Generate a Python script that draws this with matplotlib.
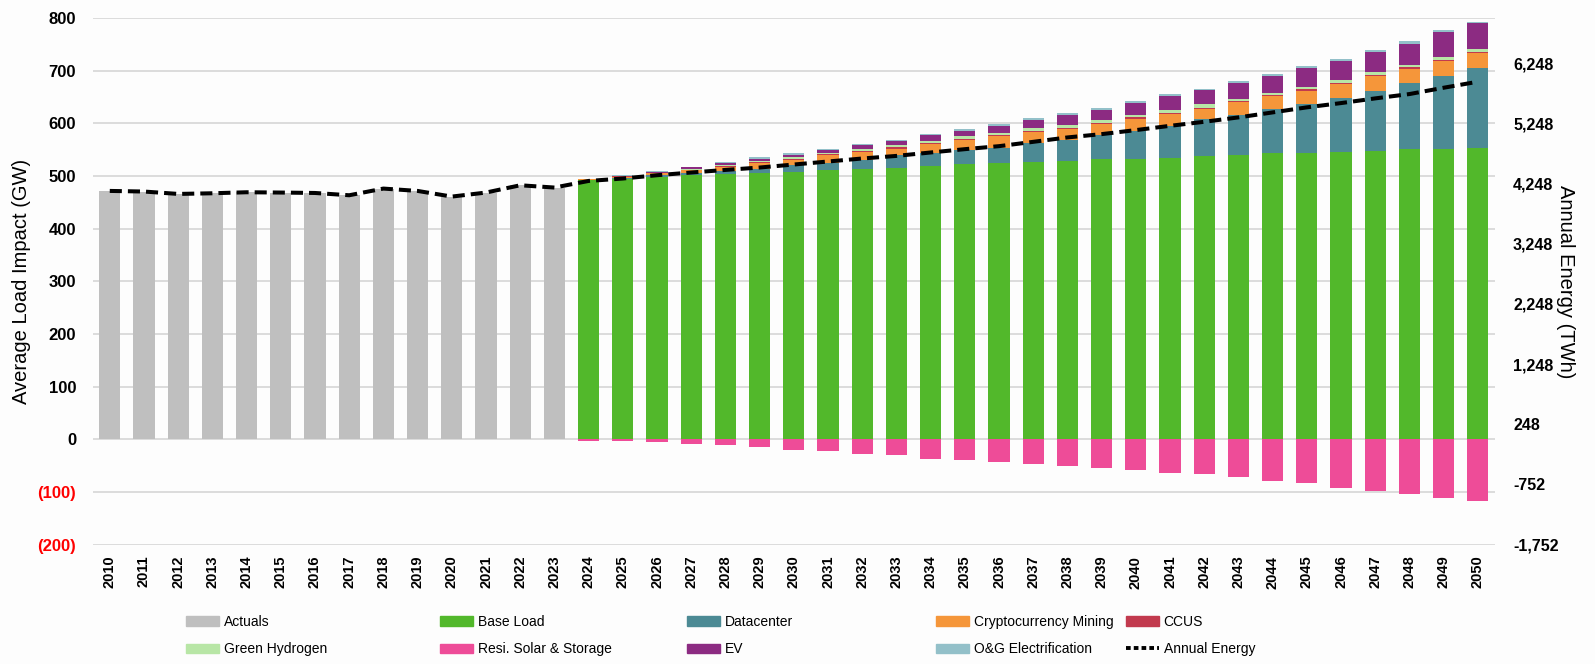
import matplotlib.pyplot as plt
import matplotlib.patches as mpatches
import matplotlib.lines as mlines
import numpy as np

plt.rcParams['font.family'] = ['Liberation Sans', 'DejaVu Sans']

years = list(range(2010, 2051))
hist_years = list(range(2010, 2024))
fcst_years = list(range(2024, 2051))

# historical average load (GW)
actuals = [471, 470, 465, 467, 469, 468, 467, 463, 475, 471, 460, 468, 482, 477]

# forecast components (GW), 2024-2050
base_load = [492, 495, 499, 502, 504, 506, 508, 511, 513, 516, 519, 522, 524, 527,
             529, 532, 532, 534, 537, 540, 543, 543, 545, 548, 551, 551, 554]
datacenter = [1, 2, 3, 4, 6, 8, 12, 14, 18, 23, 24, 27, 30, 35,
              39, 46, 54, 61, 71, 76, 84, 94, 103, 114, 125, 139, 151]
crypto = [1, 2, 3, 5, 8, 11, 11, 15, 15, 13, 17, 20, 21, 22,
          22, 21, 23, 23, 19, 25, 24, 25, 27, 27, 27, 29, 29]
ccus = [0, 0.3, 0.5, 0.8, 1, 1.2, 1.4, 1.6, 2, 2.5, 2, 2, 2, 2,
        2, 2, 2.5, 2, 2, 2, 2, 3, 2, 2, 3, 2, 2]
green_h2 = [0.2, 0.5, 1, 1.5, 2.5, 2.5, 4, 2.5, 3, 3.5, 5, 4, 4.5, 5.5,
            5, 6, 4.5, 6, 7, 4, 5.5, 4.5, 6, 6.5, 4.5, 5, 6]
resi_solar = [-3.3, -3.3, -5.9, -8.5, -11, -14.4, -19.6, -22.9, -28, -30.7, -36.6, -39.2, -42.5, -47,
              -50.3, -53.6, -58.8, -64, -66.7, -72.5, -78.4, -83.7, -92.2, -98, -104, -111.8, -117.6]
ev = [0.5, 1, 2, 3, 4, 4, 4, 5, 7.5, 7.5, 11, 10, 14, 15,
      18, 19, 22, 25, 27, 30, 32, 35, 36, 38, 41, 47, 49]
og_elec = [0.3, 0.5, 1, 1.5, 1.5, 2.5, 2.5, 2.5, 3, 2.5, 2.5, 4, 4, 4,
           4, 4, 4.5, 4, 3, 4, 4, 4, 4, 4.5, 4, 4.5, 2]

# annual energy (TWh), 2010-2050
annual_energy = [4126, 4116, 4076, 4087, 4104, 4099, 4092, 4054, 4165, 4126, 4032, 4099, 4220, 4182,
                 4292, 4332, 4387, 4432, 4475, 4515, 4565, 4615, 4665, 4708, 4765, 4820, 4870,
                 4942, 5015, 5070, 5137, 5208, 5275, 5348, 5431, 5515, 5586, 5664, 5736, 5841, 5941]

colors = {
    'Actuals': '#BFBFBF',
    'Base Load': '#52B82B',
    'Datacenter': '#4C8A94',
    'Cryptocurrency Mining': '#F5963A',
    'CCUS': '#C23A4E',
    'Green Hydrogen': '#B8E6A6',
    'Resi. Solar & Storage': '#EE4C98',
    'EV': '#8C2B82',
    'O&G Electrification': '#93C0C9',
}

fig = plt.figure(figsize=(15.95, 6.64), dpi=100)
fig.patch.set_facecolor('#FDFDFD')
ax = fig.add_axes([0.0581, 0.1798, 0.8792, 0.7931])
ax.set_facecolor('#FDFDFD')
width = 0.62

ax.bar(hist_years, actuals, width=width, color=colors['Actuals'])

stack = [('Base Load', base_load), ('Datacenter', datacenter),
         ('Cryptocurrency Mining', crypto), ('CCUS', ccus),
         ('Green Hydrogen', green_h2), ('EV', ev), ('O&G Electrification', og_elec)]
bottom = np.zeros(len(fcst_years))
for name, vals in stack:
    ax.bar(fcst_years, vals, width=width, bottom=bottom, color=colors[name])
    bottom += np.asarray(vals)
ax.bar(fcst_years, resi_solar, width=width, color=colors['Resi. Solar & Storage'])

ax.set_xlim(2009.5, 2050.5)
ax.set_ylim(-200, 800)
ax.set_yticks(range(-200, 801, 100))
ax.set_yticklabels(['(200)', '(100)'] + [str(v) for v in range(0, 801, 100)])
for lbl in ax.get_yticklabels()[:2]:
    lbl.set_color('#FF0000')
ax.set_xticks(years)
ax.set_xticklabels([str(y) for y in years], rotation=90)
ax.tick_params(axis='x', length=0, pad=8, labelsize=10.5)
ax.tick_params(axis='y', length=0, pad=12, labelsize=12)
for lbl in ax.get_xticklabels() + ax.get_yticklabels():
    lbl.set_fontweight('bold')
ax.grid(axis='y', color='#D9D9D9', linewidth=1.3)
ax.set_axisbelow(True)
ax.set_ylabel('Average Load Impact (GW)', fontsize=14.5)
ax.yaxis.set_label_coords(-0.044, 0.5)

# energy on its own secondary scale
ax2 = ax.twinx()
ax2.plot(years, annual_energy, color='black', linewidth=2.9, dashes=(3.0, 1.5))
ax2.set_ylim(-1752, 7000)
ax2.set_yticks(np.arange(-1752, 6249, 1000))
ax2.set_yticklabels([f'{v:,}' for v in np.arange(-1752, 6249, 1000)])
ax2.tick_params(axis='y', length=0, pad=13, labelsize=11.5)
for lbl in ax2.get_yticklabels():
    lbl.set_fontweight('bold')
ax2.set_ylabel('Annual Energy (TWh)', fontsize=14.5, rotation=270)
ax2.yaxis.set_label_coords(1.057, 0.5)

for a in (ax, ax2):
    for sp in a.spines.values():
        sp.set_visible(False)

# legend laid out in five columns of two entries
def patch(name):
    return mpatches.Patch(color=colors[name], label=name)

energy_handle = mlines.Line2D([], [], color='black', linewidth=2.8,
                              dashes=(1.2, 0.8), label='Annual Energy')
columns = [
    [patch('Actuals'), patch('Green Hydrogen')],
    [patch('Base Load'), patch('Resi. Solar & Storage')],
    [patch('Datacenter'), patch('EV')],
    [patch('Cryptocurrency Mining'), patch('O&G Electrification')],
    [patch('CCUS'), energy_handle],
]
col_x = [186, 440, 687, 936, 1126]
for x, handles in zip(col_x, columns):
    fig.legend(handles=handles, loc='upper left',
               bbox_to_anchor=(x / 1595, 1 - 615 / 664),
               frameon=False, borderpad=0, borderaxespad=0,
               handlelength=2.4, handleheight=0.65, handletextpad=0.3,
               labelspacing=0.95, fontsize=10)

fig.savefig('out.png', dpi=100, facecolor=fig.get_facecolor())
